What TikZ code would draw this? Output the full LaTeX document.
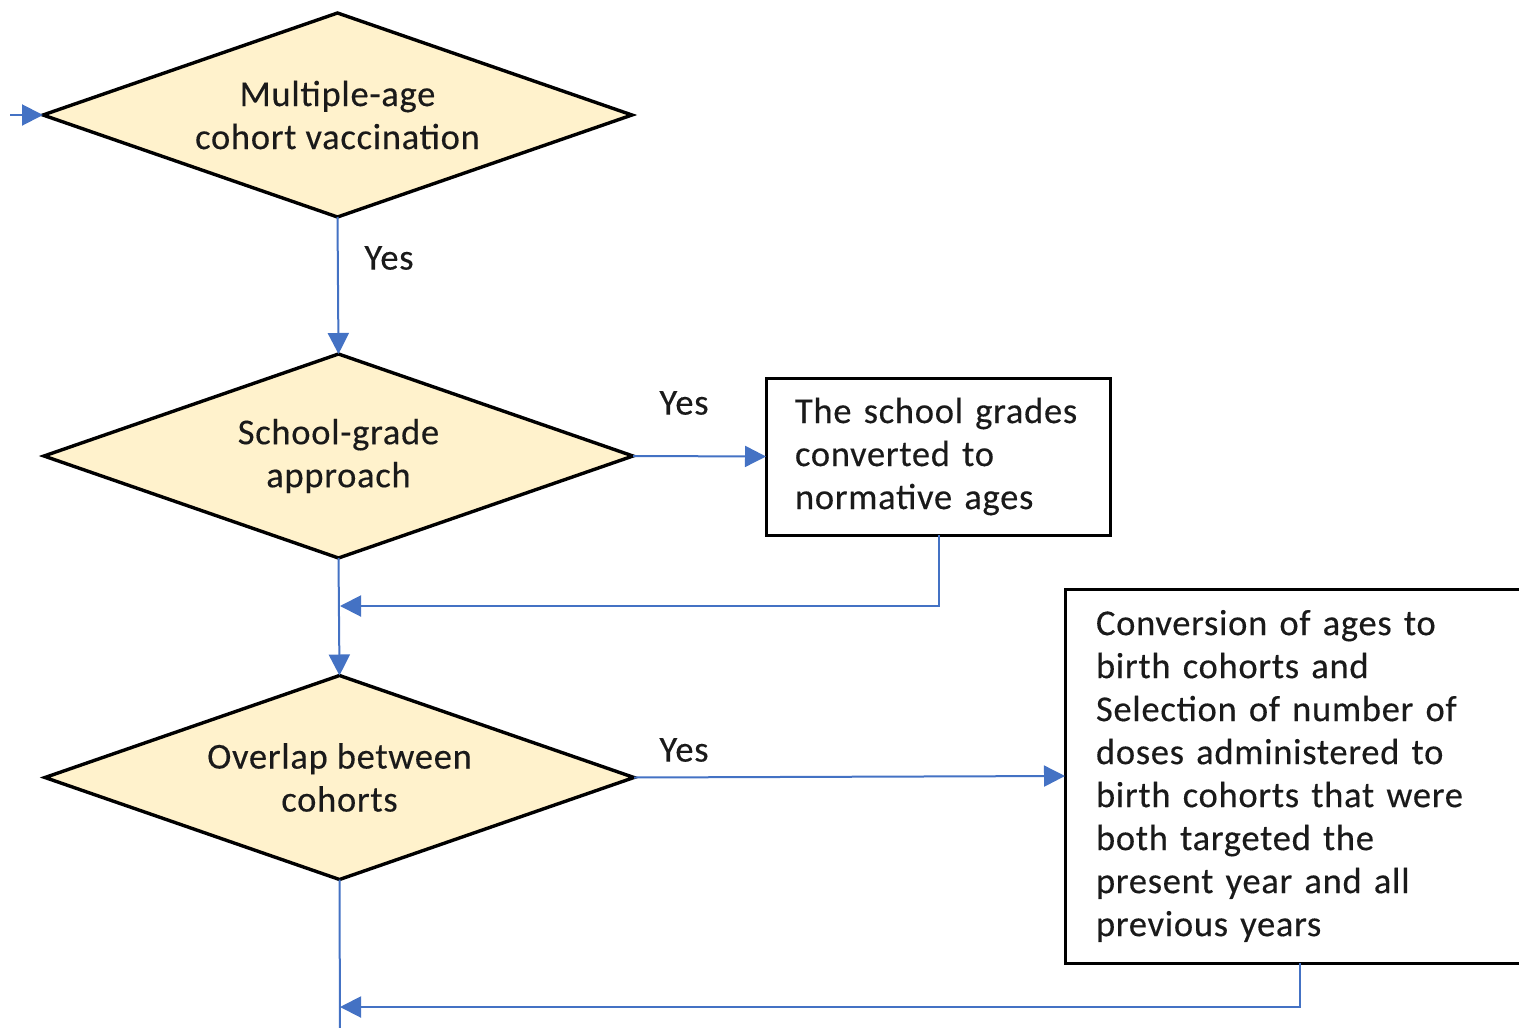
\documentclass[tikz,border=0pt]{standalone}
\usepackage{fontspec}
\setmainfont{Carlito}[LetterSpace=2,FakeBold=0.3]
\usetikzlibrary{arrows.meta,backgrounds}
\definecolor{flowblue}{HTML}{4472C4}
\definecolor{decfill}{HTML}{FFF2CC}
\definecolor{txt}{HTML}{1A1A1A}
\begin{document}
\begin{tikzpicture}[x=1pt,y=-1pt,
  every node/.style={text=txt,font=\fontsize{36.5}{43}\selectfont},
  decision/.style={rectangle,minimum width=589pt,minimum height=204pt,
    inner sep=0pt,outer sep=0pt,align=center},
  decshape/.style={draw=black,line width=3.4pt,fill=decfill,line join=miter},
  procbox/.style={rectangle,draw=black,line width=3pt,fill=white,
    outer sep=0pt,align=left},
  flow/.style={draw=flowblue,line width=2pt,
    -{Triangle[length=21pt,width=21pt]}},
  link/.style={draw=flowblue,line width=2pt},
  lbl/.style={inner sep=0pt}]
\useasboundingbox (0,0) rectangle (1519,1028);
\clip (0,0) rectangle (1519,1028);

% decisions (text boxes; the diamond outlines go on the background layer)
\node[decision] (d1) at (337.5,115) {Multiple-age\\cohort vaccination};
\node[decision] (d2) at (338.5,456) {School-grade\\approach};
\node[decision] (d3) at (339.5,777.5) {Overlap between\\cohorts};
\begin{scope}[on background layer]
  \foreach \d in {d1,d2,d3}
    \path[decshape] (\d.west) -- (\d.north) -- (\d.east) -- (\d.south) -- cycle;
\end{scope}

% processes
\node[procbox,text width=286pt,inner xsep=29pt,minimum height=157pt,anchor=north west]
  (b1) at (766,378) {The school grades\\converted to\\normative ages};
\node[procbox,text width=433pt,inner xsep=31pt,minimum height=374pt,anchor=north west]
  (b2) at (1065,589) {Conversion of ages to\\birth cohorts and\\Selection of number of\\doses administered to\\birth cohorts that were\\both targeted the\\present year and all\\previous years};

% labels
\node[lbl] (y1) at (389,258) {Yes};
\node[lbl] (y2) at (684,403) {Yes};
\node[lbl] (y3) at (684,750) {Yes};

% connectors
\coordinate (start) at (10,115);
\coordinate (j1) at (340,606);
\coordinate (j2) at (340,1007);
\coordinate (stop) at (340,1040);
\path[flow] (start) -- (d1.west);
\path[flow] (d1.south) -- (d2.north);
\path[flow] (d2.east) -- (b1.west);
\path[flow] (d3.east) -- (b2.west);
\path[flow] (b1.south -| 939,0) |- (j1);
\path[flow] (d2.south) -- (d3.north);
\path[flow] (b2.south -| 1300,0) |- (j2);
\path[link] (d3.south) -- (stop);
\end{tikzpicture}
\end{document}
